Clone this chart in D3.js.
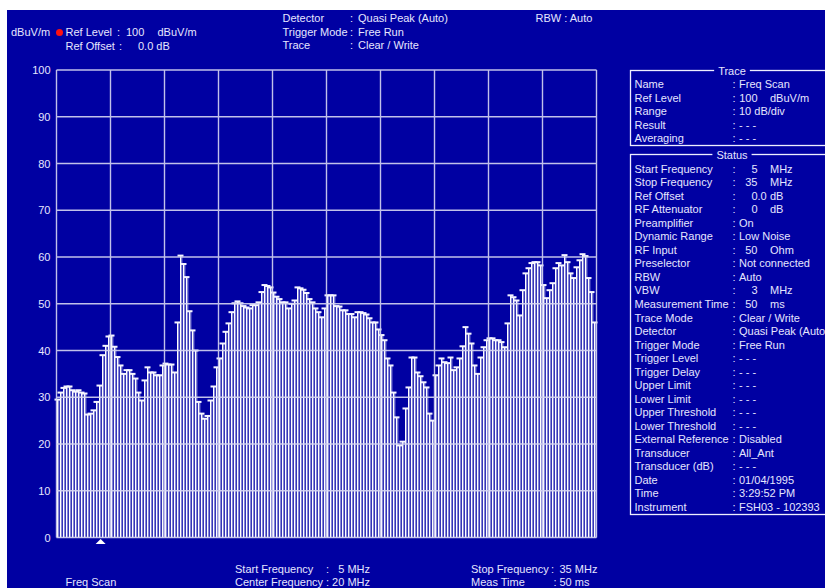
<!DOCTYPE html>
<html>
<head>
<meta charset="utf-8">
<script src="https://cdn.jsdelivr.net/npm/d3@7"></script>
<style>
  html, body { margin: 0; padding: 0; background: #ffffff; }
  svg { display: block; }
  text { font-family: "Liberation Sans", Arial, sans-serif; font-size: 11px; fill: #e6e6ff; }
</style>
</head>
<body>
<svg id="chart" width="825" height="588"></svg>
<script>
// Sweep span (MHz) and quasi-peak levels (dBuV/m), one per sweep point.
const startMHz = 5;
const stopMHz = 35;
const markerMHz = 7.45;
const levels = [
  29.5, 31, 32, 32.3, 32.3, 31.5, 31.2, 31.5, 31, 30.8,
  26.3, 26.5, 27.2, 29, 32.5, 39, 41, 43, 43.2, 40.8,
  38.6, 36.8, 35, 35.8, 35.8, 35, 34, 31, 29.3, 33.6,
  36.4, 35.3, 35.3, 34.7, 34.7, 36.8, 37.2, 37, 37, 35.3,
  46, 60.3, 58.5, 55.7, 48.4, 44.3, 40, 29, 26.5, 25.4,
  26, 29.3, 32.3, 36.4, 38.3, 41.5, 44, 45.8, 48.2, 50.1,
  50.5, 50.1, 49.5, 49.2, 49, 49.7, 49.7, 50.3, 52.5, 54,
  53.8, 53.5, 52.4, 51.5, 51, 50.3, 50.3, 49, 50, 50.7,
  53.5, 53.3, 53, 52.3, 51, 50.3, 49, 48.2, 47.1, 49,
  51.8, 51.8, 51.8, 49.5, 49.4, 48.6, 48.6, 47.8, 47.8, 47.1,
  48.2, 48.2, 48, 47.7, 46.9, 46, 46, 44.5, 43.3, 42.2,
  38.3, 36.8, 31, 25.7, 19.7, 20.5, 27.6, 32.1, 38.5, 38.5,
  35.3, 34.5, 33.2, 32.1, 26.5, 25, 34.7, 36.8, 38.3, 37.5,
  37.3, 38.5, 35.8, 36.4, 38.3, 40.9, 45, 43.6, 41.5, 36.8,
  35, 38.5, 40.7, 42.2, 42.6, 42.6, 42.2, 42.2, 41.8, 40.7,
  45.8, 51.8, 51.4, 50.7, 47.5, 52.9, 56.5, 57.6, 58.7, 58.9,
  58.9, 58.2, 54, 51.2, 52.9, 54.4, 57.6, 58.7, 58.2, 60.4,
  58.9, 56.5, 55.5, 57.8, 59.3, 60.6, 60.2, 55.5, 52.5, 46
];
const yTicks = [0, 10, 20, 30, 40, 50, 60, 70, 80, 90, 100];
const xGridMHz = [5, 8, 11, 14, 17, 20, 23, 26, 29, 32, 35];

// Header and footer captions
const unitLabel = "dBuV/m";
const refRows = [["Ref Level", ":", "100", "dBuV/m"], ["Ref Offset", ":", "0.0 dB"]];
const modeRows = [["Detector", "Quasi Peak (Auto)"], ["Trigger Mode", "Free Run"], ["Trace", "Clear / Write"]];
const rbwLabel = "RBW : Auto";
const footerLeft = "Freq Scan";
const footerMid = [["Start Frequency", "5 MHz"], ["Center Frequency", "20 MHz"]];
const footerRight = [["Stop Frequency", "35 MHz"], ["Meas Time", "50 ms"]];

// Side panels: [label, value] or [label, number, unit]
const traceRows = [
  ["Name", "Freq Scan"], ["Ref Level", "100", "dBuV/m"], ["Range", "10 dB/div"],
  ["Result", "- - -"], ["Averaging", "- - -"]
];
const statusRows = [
  ["Start Frequency", "5", "MHz"], ["Stop Frequency", "35", "MHz"], ["Ref Offset", "0.0", "dB"],
  ["RF Attenuator", "0", "dB"], ["Preamplifier", "On"], ["Dynamic Range", "Low Noise"],
  ["RF Input", "50", "Ohm"], ["Preselector", "Not connected"], ["RBW", "Auto"],
  ["VBW", "3", "MHz"], ["Measurement Time", "50", "ms"], ["Trace Mode", "Clear / Write"],
  ["Detector", "Quasi Peak (Auto)"], ["Trigger Mode", "Free Run"], ["Trigger Level", "- - -"],
  ["Trigger Delay", "- - -"], ["Upper Limit", "- - -"], ["Lower Limit", "- - -"],
  ["Upper Threshold", "- - -"], ["Lower Threshold", "- - -"], ["External Reference", "Disabled"],
  ["Transducer", "All_Ant"], ["Transducer (dB)", "- - -"], ["Date", "01/04/1995"],
  ["Time", "3:29:52 PM"], ["Instrument", "FSH03 - 102393"]
];

const BLUE = "#0000a2";
const svg = d3.select("#chart");

// Screen background with the white frame at top/left
svg.append("rect").attr("width", 825).attr("height", 588).attr("fill", "#ffffff");
svg.append("rect").attr("x", 7).attr("y", 10).attr("width", 818).attr("height", 578).attr("fill", BLUE);

const plot = { left: 56.5, right: 596.5, top: 70, bottom: 537.5 };
const x = d3.scaleLinear().domain([startMHz, stopMHz]).range([plot.left, plot.right]);
const y = d3.scaleLinear().domain([0, 100]).range([plot.bottom, plot.top]);

const step = (stopMHz - startMHz) / levels.length;
const pts = levels.map((v, i) => ({ f: startMHz + i * step, v }));
const pitch = x(startMHz + step) - x(startMHz);

// Trace columns: shaded body, bright stem, cap at the measured level
const bars = svg.append("g");
bars.selectAll("rect.body").data(pts).join("rect")
  .attr("x", d => x(d.f) + 1.5).attr("width", pitch - 1.6)
  .attr("y", d => y(d.v)).attr("height", d => y(0) - y(d.v))
  .attr("fill", "#8686d6");
bars.selectAll("rect.stem").data(pts).join("rect")
  .attr("x", d => x(d.f) + 0.5).attr("width", 1)
  .attr("y", d => y(d.v)).attr("height", d => y(0) - y(d.v))
  .attr("fill", "#ffffff");
bars.selectAll("rect.cap").data(pts).join("rect")
  .attr("x", d => x(d.f) - 2).attr("width", 6)
  .attr("y", d => y(d.v) - 1).attr("height", 2)
  .attr("fill", "#f4f4ff");

// Graticule
const grid = svg.append("g").attr("stroke", "#d6d6f2").attr("stroke-width", 1.4).attr("opacity", 0.9);
grid.selectAll("line.h").data(yTicks).join("line")
  .attr("x1", plot.left).attr("x2", plot.right)
  .attr("y1", d => y(d)).attr("y2", d => y(d));
grid.selectAll("line.v").data(xGridMHz).join("line")
  .attr("x1", d => x(d)).attr("x2", d => x(d))
  .attr("y1", plot.top).attr("y2", plot.bottom);

// Level axis labels
svg.append("g").selectAll("text").data(yTicks).join("text")
  .attr("x", 50.5).attr("y", d => y(d) + 4)
  .attr("text-anchor", "end").text(d => d);

// Marker triangle under the trace
const mx = x(markerMHz);
svg.append("path")
  .attr("d", `M${mx - 5},544 L${mx},539 L${mx + 5},544 Z`)
  .attr("fill", "#ffffff");

function label(px, py, str, anchor) {
  return svg.append("text").attr("x", px).attr("y", py)
    .attr("text-anchor", anchor || "start").text(str);
}

// Header
label(11, 36, unitLabel);
svg.append("circle").attr("cx", 59.5).attr("cy", 32.5).attr("r", 3.5).attr("fill", "#ff1010");
label(65.5, 36, refRows[0][0]); label(117, 36, refRows[0][1]);
label(126, 36, refRows[0][2]); label(157.5, 36, refRows[0][3]);
label(65.5, 49.5, refRows[1][0]); label(119, 49.5, refRows[1][1]); label(138, 49.5, refRows[1][2]);
modeRows.forEach((r, i) => {
  const by = 22 + i * 13.6;
  label(282.5, by, r[0]);
  label(350, by, ":");
  label(358, by, r[1]);
});
label(535.5, 22, rbwLabel);

// Footer
label(65.5, 586, footerLeft);
label(235, 573, footerMid[0][0]); label(326, 573, ":"); label(370, 573, footerMid[0][1], "end");
label(235, 586, footerMid[1][0]); label(326, 586, ":"); label(370, 586, footerMid[1][1], "end");
label(471, 573, footerRight[0][0]); label(551, 573, ":"); label(559.5, 573, footerRight[0][1]);
label(471, 586, footerRight[1][0]); label(553.6, 586, ":"); label(559.5, 586, footerRight[1][1]);

// Side panels
function measure(str) {
  const t = svg.append("text").text(str);
  const w = t.node().getComputedTextLength();
  t.remove();
  return w;
}
function panel(top, bottom, title, titleBaseline, rows, firstBaseline, rowStep) {
  svg.append("rect").attr("x", 630.5).attr("y", top).attr("width", 220).attr("height", bottom - top)
    .attr("fill", "none").attr("stroke", "#eeeeff").attr("stroke-width", 1.3);
  const tw = measure(title);
  svg.append("rect").attr("x", 732 - tw / 2 - 4).attr("y", top - 3).attr("width", tw + 8).attr("height", 6)
    .attr("fill", BLUE);
  label(732, titleBaseline, title, "middle");
  rows.forEach((r, i) => {
    const by = firstBaseline + i * rowStep;
    label(634.5, by, r[0]);
    label(732.5, by, ":");
    if (r.length === 3) {
      // numbers aligned on the integer part, unit in its own column
      const intPart = r[1].split(".")[0];
      label(757.5 - measure(intPart), by, r[1]);
      label(770, by, r[2]);
    } else {
      label(739, by, r[1]);
    }
  });
}
panel(70.5, 145.5, "Trace", 74.5, traceRows, 88.3, 13.4);
panel(154.5, 514.5, "Status", 158.5, statusRows, 172.7, 13.53);
</script>
</body>
</html>
